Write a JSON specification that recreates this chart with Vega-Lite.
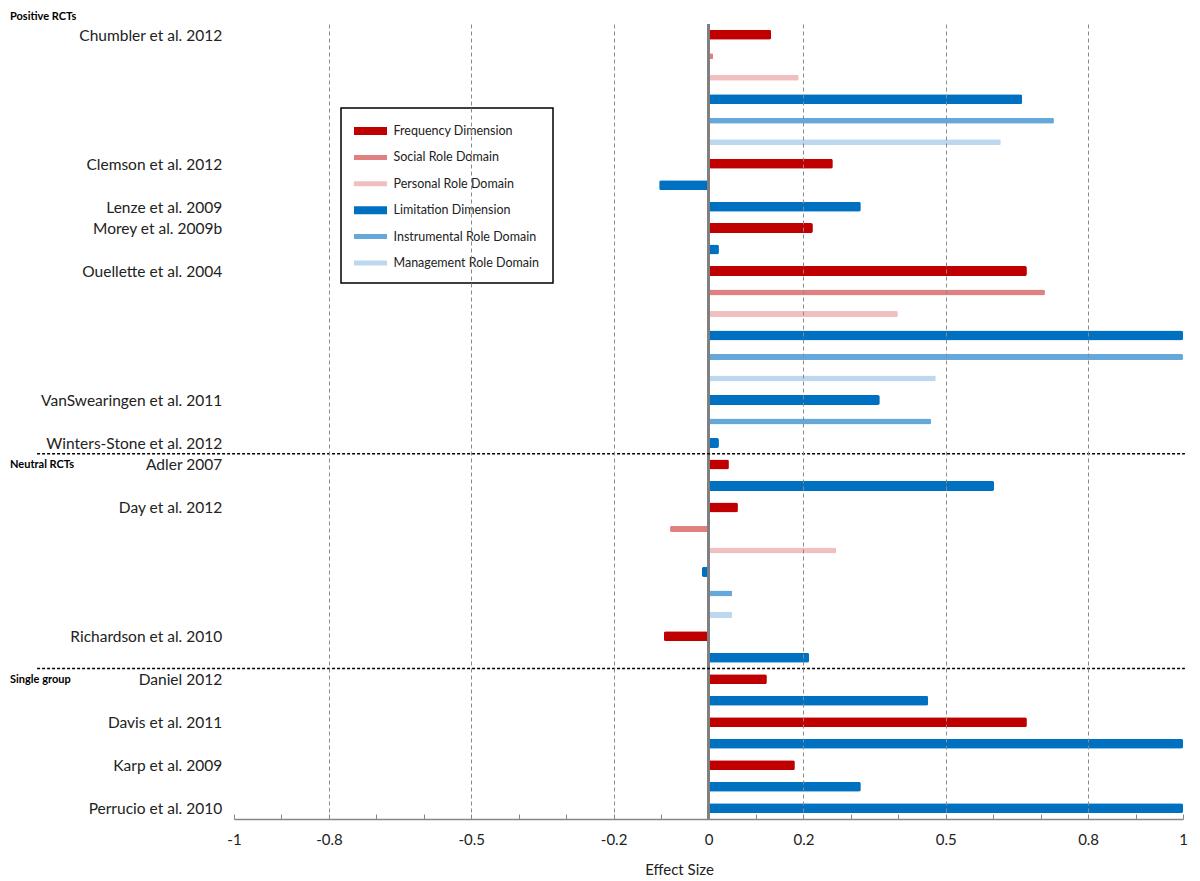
{
  "$schema": "https://vega.github.io/schema/vega-lite/v6.json",
  "autosize": "none",
  "width": 949,
  "height": 795,
  "padding": {"left": 234, "top": 24, "right": 17, "bottom": 62},
  "background": "white",
  "title": {"text": "Positive RCTs", "anchor": "start", "frame": "group", "dx": -224, "offset": 1, "font": "Lato", "fontSize": 11, "fontWeight": "bold", "color": "black"},
  "config": {"view": {"stroke": null}, "font": "Lato"},
  "data": {"values": [
    {"row": 1, "group": "Positive RCTs", "study": "Chumbler et al. 2012", "measure": "Frequency Dimension", "value": 0.132},
    {"row": 2, "group": "Positive RCTs", "study": "Chumbler et al. 2012", "measure": "Social Role Domain", "value": 0.01},
    {"row": 3, "group": "Positive RCTs", "study": "Chumbler et al. 2012", "measure": "Personal Role Domain", "value": 0.19},
    {"row": 4, "group": "Positive RCTs", "study": "Chumbler et al. 2012", "measure": "Limitation Dimension", "value": 0.661},
    {"row": 5, "group": "Positive RCTs", "study": "Chumbler et al. 2012", "measure": "Instrumental Role Domain", "value": 0.728},
    {"row": 6, "group": "Positive RCTs", "study": "Chumbler et al. 2012", "measure": "Management Role Domain", "value": 0.616},
    {"row": 7, "group": "Positive RCTs", "study": "Clemson et al. 2012", "measure": "Frequency Dimension", "value": 0.262},
    {"row": 8, "group": "Positive RCTs", "study": "Clemson et al. 2012", "measure": "Limitation Dimension", "value": -0.104},
    {"row": 9, "group": "Positive RCTs", "study": "Lenze et al. 2009", "measure": "Limitation Dimension", "value": 0.321},
    {"row": 10, "group": "Positive RCTs", "study": "Morey et al. 2009b", "measure": "Frequency Dimension", "value": 0.22},
    {"row": 11, "group": "Positive RCTs", "study": "Morey et al. 2009b", "measure": "Limitation Dimension", "value": 0.022},
    {"row": 12, "group": "Positive RCTs", "study": "Ouellette et al. 2004", "measure": "Frequency Dimension", "value": 0.671},
    {"row": 13, "group": "Positive RCTs", "study": "Ouellette et al. 2004", "measure": "Social Role Domain", "value": 0.709},
    {"row": 14, "group": "Positive RCTs", "study": "Ouellette et al. 2004", "measure": "Personal Role Domain", "value": 0.399},
    {"row": 15, "group": "Positive RCTs", "study": "Ouellette et al. 2004", "measure": "Limitation Dimension", "value": 1.0},
    {"row": 16, "group": "Positive RCTs", "study": "Ouellette et al. 2004", "measure": "Instrumental Role Domain", "value": 1.0},
    {"row": 17, "group": "Positive RCTs", "study": "Ouellette et al. 2004", "measure": "Management Role Domain", "value": 0.479},
    {"row": 18, "group": "Positive RCTs", "study": "VanSwearingen et al. 2011", "measure": "Limitation Dimension", "value": 0.361},
    {"row": 19, "group": "Positive RCTs", "study": "VanSwearingen et al. 2011", "measure": "Instrumental Role Domain", "value": 0.469},
    {"row": 20, "group": "Positive RCTs", "study": "Winters-Stone et al. 2012", "measure": "Limitation Dimension", "value": 0.022},
    {"row": 21, "group": "Neutral RCTs", "study": "Adler 2007", "measure": "Frequency Dimension", "value": 0.043},
    {"row": 22, "group": "Neutral RCTs", "study": "Adler 2007", "measure": "Limitation Dimension", "value": 0.602},
    {"row": 23, "group": "Neutral RCTs", "study": "Day et al. 2012", "measure": "Frequency Dimension", "value": 0.062},
    {"row": 24, "group": "Neutral RCTs", "study": "Day et al. 2012", "measure": "Social Role Domain", "value": -0.081},
    {"row": 25, "group": "Neutral RCTs", "study": "Day et al. 2012", "measure": "Personal Role Domain", "value": 0.269},
    {"row": 26, "group": "Neutral RCTs", "study": "Day et al. 2012", "measure": "Limitation Dimension", "value": -0.014},
    {"row": 27, "group": "Neutral RCTs", "study": "Day et al. 2012", "measure": "Instrumental Role Domain", "value": 0.05},
    {"row": 28, "group": "Neutral RCTs", "study": "Day et al. 2012", "measure": "Management Role Domain", "value": 0.05},
    {"row": 29, "group": "Neutral RCTs", "study": "Richardson et al. 2010", "measure": "Frequency Dimension", "value": -0.094},
    {"row": 30, "group": "Neutral RCTs", "study": "Richardson et al. 2010", "measure": "Limitation Dimension", "value": 0.212},
    {"row": 31, "group": "Single group", "study": "Daniel 2012", "measure": "Frequency Dimension", "value": 0.123},
    {"row": 32, "group": "Single group", "study": "Daniel 2012", "measure": "Limitation Dimension", "value": 0.463},
    {"row": 33, "group": "Single group", "study": "Davis et al. 2011", "measure": "Frequency Dimension", "value": 0.671},
    {"row": 34, "group": "Single group", "study": "Davis et al. 2011", "measure": "Limitation Dimension", "value": 1.0},
    {"row": 35, "group": "Single group", "study": "Karp et al. 2009", "measure": "Frequency Dimension", "value": 0.182},
    {"row": 36, "group": "Single group", "study": "Karp et al. 2009", "measure": "Limitation Dimension", "value": 0.321},
    {"row": 37, "group": "Single group", "study": "Perrucio et al. 2010", "measure": "Limitation Dimension", "value": 1.0}
  ]},
  "layer": [
    {
      "transform": [{"filter": {"field": "measure", "oneOf": ["Frequency Dimension", "Limitation Dimension"]}}],
      "mark": {"type": "bar", "size": 10, "cornerRadius": 2},
      "encoding": {
        "y": {"field": "row", "type": "ordinal", "axis": null, "scale": {"domain": [1,2,3,4,5,6,7,8,9,10,11,12,13,14,15,16,17,18,19,20,21,22,23,24,25,26,27,28,29,30,31,32,33,34,35,36,37], "paddingInner": 0, "paddingOuter": 0}},
        "x": {"field": "value", "type": "quantitative", "scale": {"domain": [-1, 1], "nice": false},
          "axis": {
            "title": "Effect Size", "titleFont": "Lato", "titleFontSize": 15, "titleFontWeight": "normal", "titleColor": "#222",
            "titleX": 445, "titleY": 50, "titleAlign": "center", "titleBaseline": "middle",
            "values": [-1,-0.9,-0.8,-0.7,-0.6,-0.5,-0.4,-0.3,-0.2,-0.1,0,0.1,0.2,0.3,0.4,0.5,0.6,0.7,0.8,0.9,1],
            "labelExpr": "indexof([-1,-0.8,-0.5,-0.2,0,0.2,0.5,0.8,1], datum.value) >= 0 ? '' + datum.value : ''",
            "labelFont": "Lato", "labelFontSize": 15, "labelColor": "#222", "labelPadding": 18, "labelFlush": false, "labelOverlap": false,
            "domainColor": "#868686", "domainWidth": 1.5,
            "tickColor": "#868686", "tickWidth": 1, "tickSize": -5,
            "grid": true, "gridColor": "#8a8a8a", "gridDash": [4, 3], "gridWidth": 1,
            "gridOpacity": {"condition": {"test": "indexof([-0.8,-0.5,-0.2,0.2,0.5,0.8], datum.value) >= 0", "value": 1}, "value": 0},
            "zindex": 1
          }},
        "color": {"field": "measure", "type": "nominal",
          "scale": {"domain": ["Frequency Dimension", "Social Role Domain", "Personal Role Domain", "Limitation Dimension", "Instrumental Role Domain", "Management Role Domain"],
                    "range": ["#C00000", "#E08080", "#F0BFBF", "#0070C0", "#66A8DA", "#BDD7EE"]},
          "legend": {
            "title": null, "orient": "none", "legendX": 107, "legendY": 84,
            "padding": 13, "rowPadding": 9.4, "symbolSize": 400, "symbolOffset": 6.5, "labelOffset": 13,
            "labelFont": "Lato", "labelFontSize": 12.5, "labelColor": "#222",
            "symbolStrokeWidth": 0, "symbolOpacity": 1,
            "symbolType": "M-1.65,-0.25H1.65V0.25H-1.65Z",
            "strokeColor": "black",
            "encode": {
              "legend": {"update": {"stroke": {"value": "black"}, "strokeWidth": {"value": 1.5}}},
              "symbols": {"update": {
                "shape": {"signal": "indexof(['Frequency Dimension','Limitation Dimension'], datum.value) >= 0 ? 'M-1.65,-0.4H1.65V0.4H-1.65Z' : 'M-1.65,-0.25H1.65V0.25H-1.65Z'"},
                "fill": {"scale": "color", "field": "value"},
                "opacity": {"value": 1}
              }}
            }
          }}
      }
    },
    {
      "transform": [{"filter": {"not": {"field": "measure", "oneOf": ["Frequency Dimension", "Limitation Dimension"]}}}],
      "mark": {"type": "bar", "size": 6, "cornerRadius": 1.5},
      "encoding": {
        "y": {"field": "row", "type": "ordinal", "axis": null},
        "x": {"field": "value", "type": "quantitative"},
        "color": {"field": "measure", "type": "nominal"}
      }
    },
    {
      "mark": {"type": "rule", "color": "#808080", "strokeWidth": 1.5},
      "encoding": {"x": {"datum": 0}}
    },
    {
      "transform": [
        {"aggregate": [{"op": "min", "field": "row", "as": "row"}], "groupby": ["group"]},
        {"filter": "datum.row > 1"}
      ],
      "mark": {"type": "rule", "color": "black", "strokeWidth": 1.5, "strokeDash": [3, 2]},
      "encoding": {
        "y": {"field": "row", "type": "ordinal", "bandPosition": 0, "axis": null},
        "x": {"datum": -1.415},
        "x2": {"datum": 1.004}
      }
    },
    {
      "transform": [{"aggregate": [{"op": "min", "field": "row", "as": "row"}], "groupby": ["study"]}],
      "mark": {"type": "text", "align": "right", "baseline": "middle", "dy": 1, "font": "Lato", "fontSize": 15.5, "color": "#222"},
      "encoding": {
        "y": {"field": "row", "type": "ordinal", "axis": null},
        "x": {"datum": -1.025},
        "text": {"field": "study"}
      }
    },
    {
      "transform": [
        {"aggregate": [{"op": "min", "field": "row", "as": "row"}], "groupby": ["group"]},
        {"filter": "datum.row > 1"}
      ],
      "mark": {"type": "text", "align": "left", "baseline": "middle", "dy": 1, "font": "Lato", "fontSize": 11, "fontWeight": "bold", "color": "black"},
      "encoding": {
        "y": {"field": "row", "type": "ordinal", "axis": null},
        "x": {"datum": -1.472},
        "text": {"field": "group"}
      }
    }
  ]
}
